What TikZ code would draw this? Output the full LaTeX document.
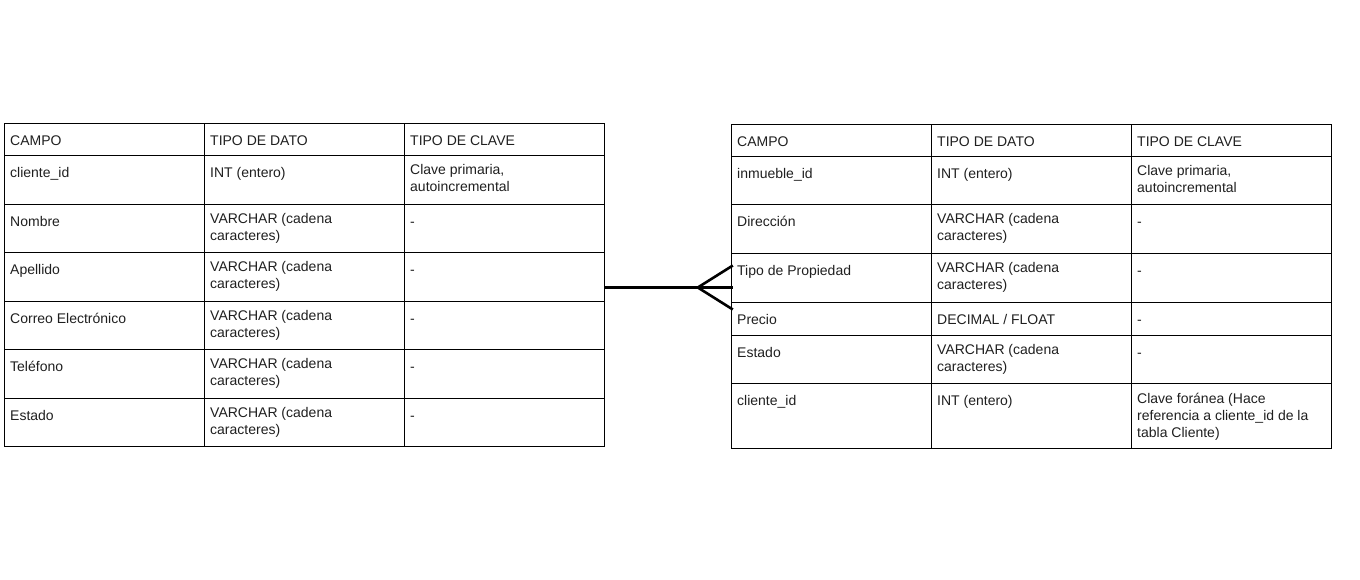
\documentclass[tikz,border=0pt]{standalone}
\usepackage{fontspec}
\setmainfont{Liberation Sans}
\usetikzlibrary{fit}

\tikzset{
	celda/.style={draw, line width=0.8pt, minimum width=200pt, minimum height=#1, anchor=north west, inner sep=0pt, outer sep=0pt},
	texto/.style={anchor=north west, align=left, inner sep=0pt, font=\fontsize{14}{17}\selectfont, text=black!88, execute at begin node={\rule{0pt}{13pt}}},
	relacion/.style={line width=2.6pt},
}

\begin{document}
\begin{tikzpicture}[x=1pt,y=-1pt]
	\useasboundingbox (0,0) rectangle (1360,580);
	% tabla Cliente
	\foreach \i/\y/\h/\a/\b/\c in {
		0/123.5/32/CAMPO/TIPO DE DATO/TIPO DE CLAVE,
		1/155.5/48.5/cliente\_id/INT (entero)/{Clave primaria,\\autoincremental},
		2/204/48.5/Nombre/{VARCHAR (cadena\\caracteres)}/-,
		3/252.5/48.5/Apellido/{VARCHAR (cadena\\caracteres)}/-,
		4/301/48.5/Correo Electrónico/{VARCHAR (cadena\\caracteres)}/-,
		5/349.5/48.5/Teléfono/{VARCHAR (cadena\\caracteres)}/-,
		6/398/48.5/Estado/{VARCHAR (cadena\\caracteres)}/-}{
		\node[celda=\h] (cli\i-a) at (4,\y) {};
		\node[celda=\h] (cli\i-b) at (cli\i-a.north east) {};
		\node[celda=\h] (cli\i-c) at (cli\i-b.north east) {};
		\node[texto] (cli\i-ta) at ([shift={(6,9)}]cli\i-a.north west) {\a};
		\node[texto] (cli\i-tb) at ([shift={(6,9)}]cli\i-b.north west) {\b};
		\node[texto] (cli\i-tc) at ([shift={(6,9)}]cli\i-c.north west) {\c};
	}
	% tabla Inmueble
	\foreach \i/\y/\h/\a/\b/\c in {
		0/124/32.5/CAMPO/TIPO DE DATO/TIPO DE CLAVE,
		1/156.5/48/inmueble\_id/INT (entero)/{Clave primaria,\\autoincremental},
		2/204.5/49/Dirección/{VARCHAR (cadena\\caracteres)}/-,
		3/253.5/49/Tipo de Propiedad/{VARCHAR (cadena\\caracteres)}/-,
		4/302.5/32.5/Precio/{DECIMAL / FLOAT}/-,
		5/335/48.5/Estado/{VARCHAR (cadena\\caracteres)}/-,
		6/383.5/64.5/cliente\_id/INT (entero)/{Clave foránea (Hace\\referencia a cliente\_id de la\\tabla Cliente)}}{
		\node[celda=\h] (inm\i-a) at (731,\y) {};
		\node[celda=\h] (inm\i-b) at (inm\i-a.north east) {};
		\node[celda=\h] (inm\i-c) at (inm\i-b.north east) {};
		\node[texto] (inm\i-ta) at ([shift={(6,9)}]inm\i-a.north west) {\a};
		\node[texto] (inm\i-tb) at ([shift={(6,9)}]inm\i-b.north west) {\b};
		\node[texto] (inm\i-tc) at ([shift={(6,9)}]inm\i-c.north west) {\c};
	}
	\node[fit=(cli0-a)(cli6-c), inner sep=0pt] (cliente) {};
	\node[fit=(inm0-a)(inm6-c), inner sep=0pt] (inmueble) {};
	% relacion uno a muchos
	\coordinate (pie) at ([shift={(2,1.5)}]inmueble.west);
	\coordinate (pata) at ([xshift=-35]pie);
	\draw[relacion] ([yshift=-2.5]cliente.east) -- (pie);
	\draw[relacion] ([yshift=22]pie) -- (pata) -- ([yshift=-22]pie);
\end{tikzpicture}
\end{document}
